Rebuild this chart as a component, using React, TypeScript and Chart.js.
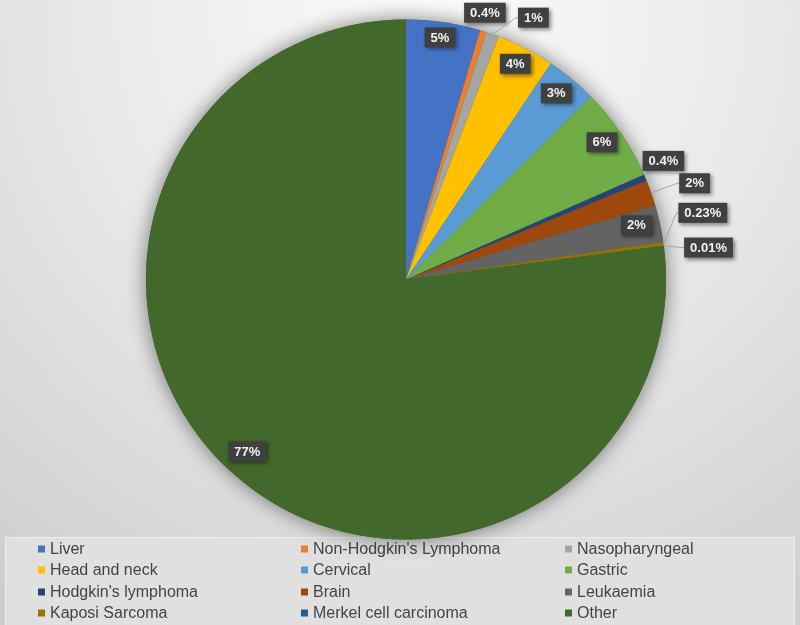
import React, { useEffect, useRef } from "react";
import { Chart, registerables } from "chart.js";

Chart.register(...registerables);

const cancerTypes = [
  "Liver",
  "Non-Hodgkin's Lymphoma",
  "Nasopharyngeal",
  "Head and neck",
  "Cervical",
  "Gastric",
  "Hodgkin's lymphoma",
  "Brain",
  "Leukaemia",
  "Kaposi Sarcoma",
  "Merkel cell carcinoma",
  "Other",
];
const shares = [4.6, 0.4, 0.8, 3.6, 3.2, 5.8, 0.4, 1.6, 2.3, 0.23, 0.01, 77.06];
const shareLabels = ["5%", "0.4%", "1%", "4%", "3%", "6%", "0.4%", "2%", "2%", "0.23%", "0.01%", "77%"];
const sliceColors = [
  "#4472C4",
  "#ED7D31",
  "#A5A5A5",
  "#FFC000",
  "#5B9BD5",
  "#70AD47",
  "#264478",
  "#9E480E",
  "#636363",
  "#997300",
  "#255E91",
  "#43682B",
];

// label placement (style): angle offset from slice middle in degrees, radius fraction, leader line
const placement = [
  { dA: -0.3, r: 0.94, leader: false },
  { dA: -0.8, r: 1.07, leader: false },
  { dA: 6.5, r: 1.12, leader: true },
  { dA: -0.5, r: 0.93, leader: false },
  { dA: -0.7, r: 0.92, leader: false },
  { dA: -0.8, r: 0.92, leader: false },
  { dA: -1.7, r: 1.09, leader: false },
  { dA: 1.0, r: 1.17, leader: true },
  { dA: -0.8, r: 0.91, leader: false },
  { dA: -4.8, r: 1.17, leader: true },
  { dA: 1.4, r: 1.17, leader: true },
  { dA: 1.4, r: 0.9, leader: false },
];

function drawLegend(chart: any) {
  const ctx = chart.ctx;
  const labels = chart.data.labels as string[];
  const colors = chart.data.datasets[0].backgroundColor as string[];
  ctx.save();
  ctx.fillStyle = "#e0e0e0";
  ctx.fillRect(5, 537, 790, 88);
  ctx.strokeStyle = "#efefef";
  ctx.lineWidth = 1;
  ctx.strokeRect(5.5, 537.5, 789, 90);
  ctx.font = "16px 'Liberation Sans', Arial, sans-serif";
  ctx.textBaseline = "middle";
  ctx.textAlign = "left";
  const colX = [38, 301, 565];
  const rowY = [549, 570, 592, 613];
  labels.forEach((lab, i) => {
    const col = i % 3;
    const row = Math.floor(i / 3);
    const x = colX[col];
    const y = rowY[row];
    ctx.fillStyle = colors[i];
    ctx.fillRect(x, y - 3.5, 7, 7);
    ctx.fillStyle = "#444444";
    ctx.fillText(lab, x + 12, y + 1);
  });
  ctx.restore();
}

const bgPlugin = {
  id: "bgPlugin",
  beforeDraw(chart: any) {
    const { ctx, width, height } = chart;
    ctx.save();
    const g = ctx.createRadialGradient(430, 20, 0, 430, 20, 720);
    g.addColorStop(0, "#fbfbfb");
    g.addColorStop(0.45, "#eaeaea");
    g.addColorStop(1, "#cdcdcd");
    ctx.fillStyle = g;
    ctx.fillRect(0, 0, width, height);
    ctx.restore();
    drawLegend(chart);
  },
};

const shadowPlugin = {
  id: "shadowPlugin",
  beforeDatasetsDraw(chart: any) {
    const meta = chart.getDatasetMeta(0);
    const arc = meta.data[0];
    if (!arc) return;
    const { x, y, outerRadius } = arc.getProps(["x", "y", "outerRadius"], true);
    const ctx = chart.ctx;
    ctx.save();
    ctx.shadowColor = "rgba(0,0,0,0.5)";
    ctx.shadowBlur = 20;
    ctx.shadowOffsetX = 0;
    ctx.shadowOffsetY = 0;
    ctx.beginPath();
    ctx.arc(x, y, outerRadius, 0, Math.PI * 2);
    ctx.fillStyle = "#43682B";
    ctx.fill();
    ctx.restore();
  },
};

const labelPlugin = {
  id: "labelPlugin",
  afterDatasetsDraw(chart: any) {
    const ctx = chart.ctx;
    const meta = chart.getDatasetMeta(0);
    ctx.save();
    ctx.font = "bold 13px 'Liberation Sans', Arial, sans-serif";
    ctx.textAlign = "center";
    ctx.textBaseline = "middle";
    meta.data.forEach((arc: any, i: number) => {
      const p = placement[i];
      const text = shareLabels[i];
      const { x, y, startAngle, endAngle, outerRadius } = arc.getProps(
        ["x", "y", "startAngle", "endAngle", "outerRadius"],
        true
      );
      const mid = (startAngle + endAngle) / 2;
      const a = mid + (p.dA * Math.PI) / 180;
      const cx = x + Math.cos(a) * outerRadius * p.r;
      const cy = y + Math.sin(a) * outerRadius * p.r;
      const tw = ctx.measureText(text).width;
      const bw = tw + 12;
      const bh = 20;
      const left = cx - bw / 2;
      const top = cy - bh / 2;
      if (p.leader) {
        const sx = x + Math.cos(mid) * outerRadius;
        const sy = y + Math.sin(mid) * outerRadius;
        ctx.save();
        ctx.strokeStyle = "#a6a6a6";
        ctx.lineWidth = 1;
        ctx.beginPath();
        ctx.moveTo(sx, sy);
        ctx.lineTo(left - 2, cy);
        ctx.lineTo(left, cy);
        ctx.stroke();
        ctx.restore();
      }
      ctx.save();
      ctx.shadowColor = "rgba(0,0,0,0.45)";
      ctx.shadowBlur = 4;
      ctx.shadowOffsetX = 2;
      ctx.shadowOffsetY = 2;
      ctx.fillStyle = "#404040";
      ctx.fillRect(left, top, bw, bh);
      ctx.restore();
      ctx.fillStyle = "#f2f2f2";
      ctx.fillText(text, cx, cy + 0.5);
    });
    ctx.restore();
  },
};

export default function App() {
  const ref = useRef<HTMLCanvasElement | null>(null);
  useEffect(() => {
    document.body.style.margin = "0";
    if (!ref.current) return;
    const chart = new Chart(ref.current, {
      type: "pie",
      data: {
        labels: cancerTypes,
        datasets: [
          {
            data: shares,
            backgroundColor: sliceColors,
            borderWidth: 0,
          },
        ],
      },
      options: {
        responsive: false,
        maintainAspectRatio: false,
        animation: false,
        layout: { padding: { left: 146, right: 134, top: 19, bottom: 85 } },
        plugins: {
          legend: { display: false },
          tooltip: { enabled: false },
        },
      },
      plugins: [bgPlugin, shadowPlugin, labelPlugin],
    });
    return () => chart.destroy();
  }, []);
  return (
    <div style={{ position: "absolute", left: 0, top: 0, width: 800, height: 625 }}>
      <canvas ref={ref} width={800} height={625} />
    </div>
  );
}
